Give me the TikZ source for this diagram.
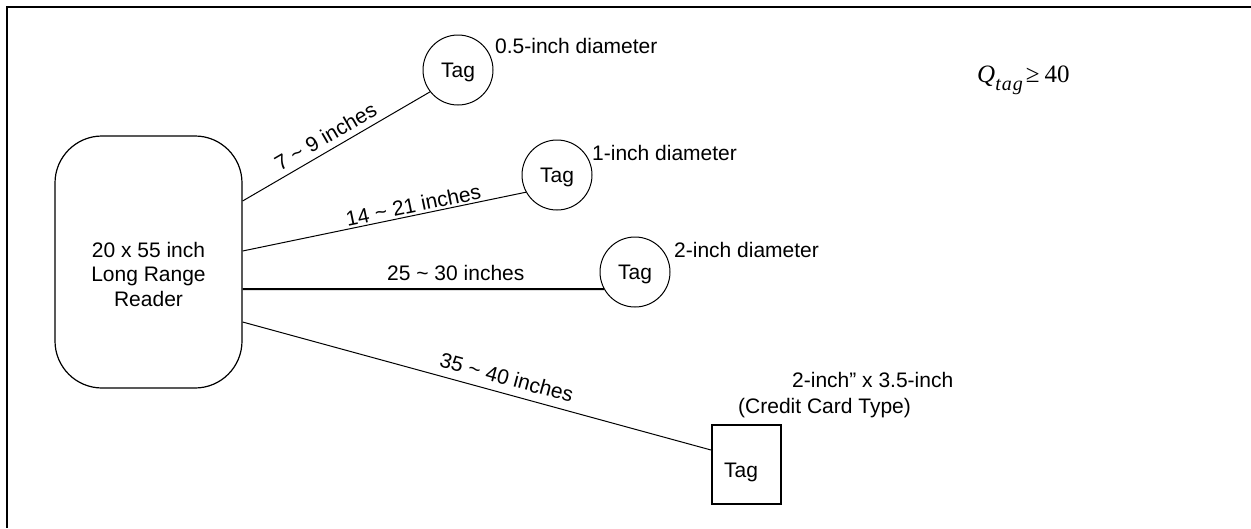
\documentclass[tikz,border=0pt]{standalone}
\usepackage{fontspec}
\setmainfont{Liberation Sans}
\newfontfamily\tms{Liberation Serif}
\begin{document}
\begin{tikzpicture}[x=1pt,y=1pt,
  every node/.style={font=\fontsize{21}{24.5}\selectfont},
  reader/.style={draw, line width=1.2pt, rounded corners=47pt, minimum width=187pt, minimum height=252pt, inner sep=0pt},
  roundtag/.style={draw, circle, line width=1pt, minimum size=70pt, inner sep=0pt, text depth=0pt},
  cardtag/.style={draw, rectangle, line width=2pt, minimum width=69pt, minimum height=79pt, inner sep=0pt},
  link/.style={line width=1pt},
  thicklink/.style={line width=2pt},
  dist/.style={sloped, above},
  note/.style={anchor=base west, inner sep=0pt}]
\useasboundingbox (0,0) rectangle (1251,-528);
% frame
\draw[line width=2.2pt] (1251,-6.7) -- (6.7,-6.7) -- (6.7,-528);
% reader
\node[reader] (reader) at (148.5,-262) {};
\node[align=center, inner sep=0pt] (readertext) at (148.5,-274) {20 x 55 inch\\Long Range\\Reader};
% tags
\node[roundtag] (tag1) at (458,-70) {Tag};
\node[roundtag] (tag2) at (557,-175) {Tag};
\node[roundtag] (tag3) at (635,-272) {Tag};
\node[cardtag] (tag4) at (746.5,-464.5) {};
\node[inner sep=0pt, anchor=base] (tag4text) at (741,-477) {Tag};
% notes
\node[note] (d1) at (495,-53) {0.5-inch diameter};
\node[note] (d2) at (592,-160) {1-inch diameter};
\node[note] (d3) at (674,-257) {2-inch diameter};
\node[note] (d4a) at (792,-387) {2-inch'' x 3.5-inch};
\node[note] (d4b) at (738,-413) {(Credit Card Type)};
\node[anchor=base west, inner sep=0pt] (q) at (977,-82)
  {\tms\fontsize{25}{30}\selectfont\itshape Q\raisebox{-8pt}{\fontsize{20}{20}\selectfont t\kern1pt a\kern1pt g}\upshape\kern3pt ≥\kern5pt 40};
% links
\draw[link] ([yshift=61pt]reader.east) -- node[dist, pos=0.48, inner sep=6pt] {7 \textasciitilde\ 9 inches} (tag1.218.7);
\draw[link] ([yshift=11pt]reader.east) -- node[dist, pos=0.61, inner sep=2pt] {14 \textasciitilde\ 21 inches} (tag2.209.5);
\draw[thicklink] ([yshift=-27pt]reader.east) -- node[above, pos=0.59, inner sep=7pt] {25 \textasciitilde\ 30 inches} (tag3.209);
\draw[link] ([yshift=-60pt]reader.east) -- node[dist, pos=0.555, inner sep=8pt] {35 \textasciitilde\ 40 inches} ([yshift=14.5pt]tag4.west);
\end{tikzpicture}
\end{document}
